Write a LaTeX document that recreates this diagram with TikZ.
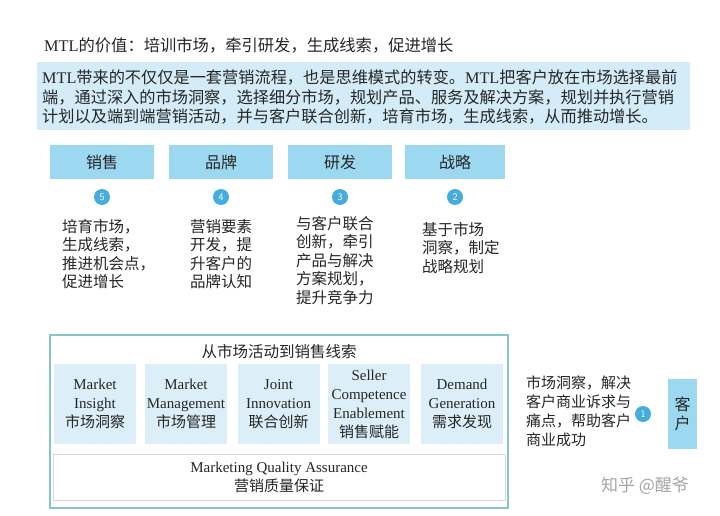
\documentclass[tikz,border=0pt]{standalone}
\usepackage{fontspec}
\setmainfont{Liberation Serif}
\newfontfamily\cjk{Noto Sans CJK SC}
\definecolor{hdrblue}{HTML}{9CD8F0}
\definecolor{topblue}{HTML}{D3ECF7}
\definecolor{inblue}{HTML}{DCEEF7}
\definecolor{circblue}{HTML}{45ADDE}
\definecolor{tealline}{HTML}{86C5C9}
\definecolor{txt}{HTML}{262626}
\tikzset{
  hdr/.style={fill=hdrblue, minimum width=104pt, minimum height=34pt, inner sep=0pt,
    font=\cjk\fontsize{16}{18}\selectfont, text=txt},
  num/.style={circle, fill=circblue, text=white, minimum size=16pt, inner sep=0pt,
    font=\sffamily\fontsize{10}{11}\selectfont},
  desc/.style={anchor=north west, align=left, inner sep=0pt, text=txt,
    font=\cjk\fontsize{15.5}{18.5}\selectfont},
  inbox/.style={fill=inblue, draw=white, line width=1pt, minimum width=83pt, minimum height=81pt,
    inner sep=0pt, align=center, text=txt, font=\fontsize{15}{19}\selectfont},
}
\begin{document}
\begin{tikzpicture}[x=1pt,y=-1pt]
\useasboundingbox[fill=white] (0,0) rectangle (720,516);

\node[anchor=west, inner sep=0pt, text=txt, font=\cjk\fontsize{16.3}{18}\selectfont] (title) at (44,45)
  {{\rmfamily MTL}的价值：培训市场，牵引研发，生成线索，促进增长};

\node[fill=topblue, minimum width=653pt, minimum height=68pt, inner sep=0pt] (intro) at (363.5,96) {};
\node[anchor=west, align=left, inner sep=0pt, text=txt, font=\cjk\fontsize{16.2}{19.5}\selectfont] (introtext) at (42,97)
  {{\rmfamily MTL}带来的不仅仅是一套营销流程，也是思维模式的转变。{\rmfamily MTL}把客户放在市场选择最前\\
   端，通过深入的市场洞察，选择细分市场，规划产品、服务及解决方案，规划并执行营销\\
   计划以及端到端营销活动，并与客户联合创新，培育市场，生成线索，从而推动增长。};

\node[hdr] (sales) at (102,162) {销售};
\node[hdr] (brand) at (221,162) {品牌};
\node[hdr] (rd) at (340,162) {研发};
\node[hdr, minimum width=100pt] (strat) at (455,162) {战略};

\node[num] (n5) at (102,197) {5};
\node[num] (n4) at (221,197) {4};
\node[num] (n3) at (340,197) {3};
\node[num] (n2) at (455,197) {2};

\node[desc] (d5) at (62,219) {培育市场，\\生成线索，\\推进机会点，\\促进增长};
\node[desc] (d4) at (190,219) {营销要素\\开发，提\\升客户的\\品牌认知};
\node[desc] (d3) at (296,216) {与客户联合\\创新，牵引\\产品与解决\\方案规划，\\提升竞争力};
\node[desc] (d2) at (422,222) {基于市场\\洞察，制定\\战略规划};

\node[draw=tealline, line width=1.5pt, minimum width=458pt, minimum height=173pt, inner sep=0pt] (outer) at (279,421.5) {};
\node[text=txt, font=\cjk\fontsize{15.5}{18}\selectfont] (otitle) at (279,352) {从市场活动到销售线索};

\node[inbox] (b1) at (95,404) {Market\\Insight\\{\cjk 市场洞察}};
\node[inbox] (b2) at (186,404) {Market\\Management\\{\cjk 市场管理}};
\node[inbox] (b3) at (278.5,404) {Joint\\Innovation\\{\cjk 联合创新}};
\node[inbox] (b4) at (369,404) {Seller\\Competence\\Enablement\\{\cjk 销售赋能}};
\node[inbox] (b5) at (462,404) {Demand\\Generation\\{\cjk 需求发现}};

\node[fill=white, draw=black!15, line width=0.8pt, minimum width=452pt, minimum height=46pt, inner sep=0pt,
  align=center, text=txt, font=\fontsize{15}{19}\selectfont] (mqa) at (279,477)
  {Marketing Quality Assurance\\{\cjk 营销质量保证}};

\node[desc, font=\cjk\fontsize{15}{19}\selectfont] (d1) at (526,376) {市场洞察，解决\\客户商业诉求与\\痛点，帮助客户\\商业成功};
\node[num] (n1) at (643,414) {1};
\node[fill=hdrblue, minimum width=29pt, minimum height=70pt, inner sep=0pt, align=center, text=txt,
  font=\cjk\fontsize{16}{19}\selectfont] (cust) at (682.5,414) {客\\户};

\node[text=black!35, font=\cjk\fontsize{17}{20}\selectfont] (wm) at (645,486) {知乎 @醒爷};
\end{tikzpicture}
\end{document}
